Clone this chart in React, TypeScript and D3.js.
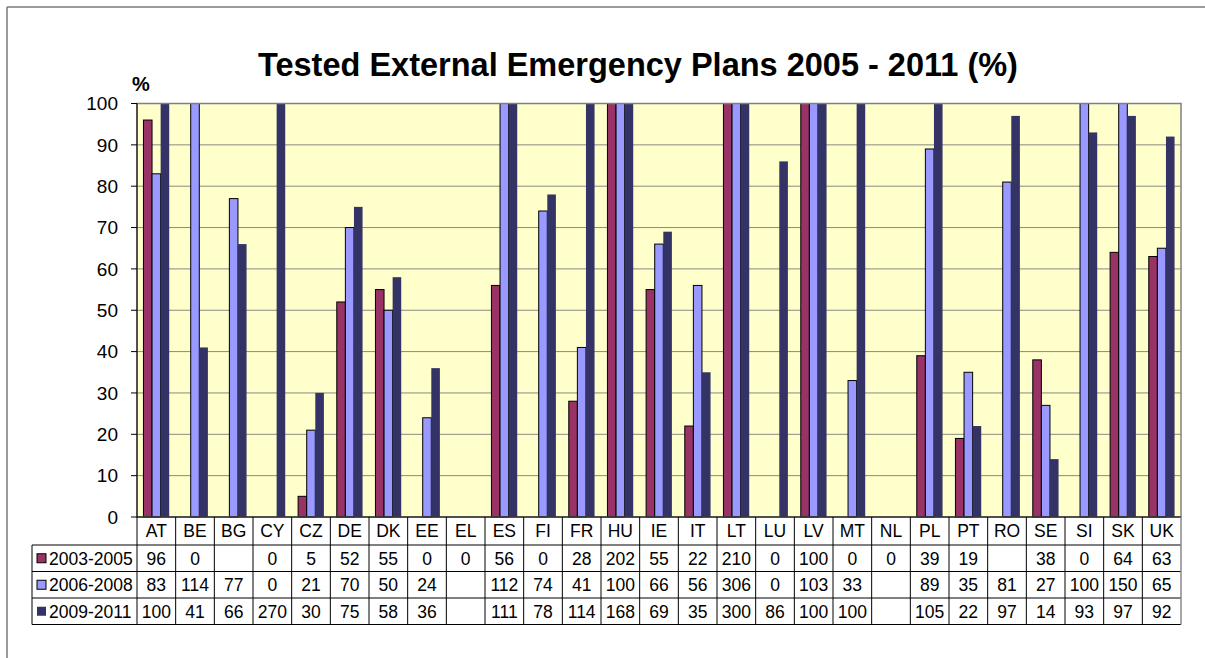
import React from 'react';
import * as d3 from 'd3';

const countries = ['AT', 'BE', 'BG', 'CY', 'CZ', 'DE', 'DK', 'EE', 'EL', 'ES', 'FI', 'FR', 'HU', 'IE', 'IT', 'LT', 'LU', 'LV', 'MT', 'NL', 'PL', 'PT', 'RO', 'SE', 'SI', 'SK', 'UK'];
const seriesNames = ['2003-2005', '2006-2008', '2009-2011'];
const s2003 = [96, 0, null, 0, 5, 52, 55, 0, 0, 56, 0, 28, 202, 55, 22, 210, 0, 100, 0, 0, 39, 19, null, 38, 0, 64, 63];
const s2006 = [83, 114, 77, 0, 21, 70, 50, 24, null, 112, 74, 41, 100, 66, 56, 306, 0, 103, 33, null, 89, 35, 81, 27, 100, 150, 65];
const s2009 = [100, 41, 66, 270, 30, 75, 58, 36, null, 111, 78, 114, 168, 69, 35, 300, 86, 100, 100, null, 105, 22, 97, 14, 93, 97, 92];
const yTicks = [0, 10, 20, 30, 40, 50, 60, 70, 80, 90, 100];

const seriesValues = [s2003, s2006, s2009];
const fills = ['#993366', '#9999FF', '#333366'];
const strokes = ['#000', '#000', 'none'];

const W = 1205;
const H = 658;
const plot = { left: 137, right: 1181, top: 103.5, bottom: 517 };
const tableRows = [517, 545, 571.5, 598, 624.5];
const legendLeft = 32;
const font = 'Arial, "Liberation Sans", sans-serif';

export default function App() {
  const x = d3.scaleBand<string>().domain(countries).range([plot.left, plot.right]);
  // gap width 150% like excel: 3 bars + 1.5 bar gap per category
  const barW = x.bandwidth() / 4.5;
  const y = d3.scaleLinear().domain([0, 100]).range([plot.bottom, plot.top]);

  return (
    <svg width={W} height={H} style={{ position: 'absolute', left: 0, top: 0, background: '#fff' }} fontFamily={font}>
      {/* chart frame */}
      <line x1={7} y1={7} x2={W} y2={7} stroke="#7a7a7a" strokeWidth={1.5} />
      <line x1={7} y1={7} x2={7} y2={H} stroke="#7a7a7a" strokeWidth={1.5} />

      <text x={638} y={76} textAnchor="middle" fontSize={32.5} fontWeight="bold">
        Tested External Emergency Plans 2005 - 2011 (%)
      </text>
      <text x={132} y={91} fontSize={20} fontWeight="bold">%</text>

      {/* plot area */}
      <rect x={plot.left} y={plot.top} width={plot.right - plot.left} height={plot.bottom - plot.top} fill="#FFFFCC" />
      {yTicks.filter(t => t > 0).map(t => (
        <line key={t} x1={plot.left} x2={plot.right} y1={y(t)} y2={y(t)} stroke="#8a8a80" strokeWidth={1} />
      ))}

      {seriesValues.map((vals, si) => (
        <g key={si}>
          {vals.map((v, ci) => {
            if (v == null || v === 0) return null;
            const bx = (x(countries[ci]) as number) + barW * 0.75 + si * barW;
            const top = y(Math.min(v, 100));
            return (
              <rect key={ci} x={bx} y={top} width={barW} height={plot.bottom - top}
                fill={fills[si]} stroke={strokes[si]} strokeWidth={1} />
            );
          })}
        </g>
      ))}

      <rect x={plot.left} y={plot.top} width={plot.right - plot.left} height={plot.bottom - plot.top} fill="none" stroke="#808080" strokeWidth={1.5} />
      <line x1={plot.left} x2={plot.left} y1={plot.top} y2={plot.bottom} stroke="#000" />
      <line x1={plot.left} x2={plot.right} y1={plot.bottom} y2={plot.bottom} stroke="#000" />

      {/* y axis */}
      {yTicks.map(t => (
        <g key={t}>
          <line x1={plot.left - 6} x2={plot.left} y1={y(t)} y2={y(t)} stroke="#000" />
          <text x={118} y={y(t)} dy="0.36em" textAnchor="end" fontSize={19}>{t}</text>
        </g>
      ))}

      {/* data table */}
      {tableRows.slice(1).map((ry, i) => (
        <line key={i} x1={legendLeft} x2={plot.right} y1={ry} y2={ry} stroke="#000" strokeWidth={1} />
      ))}
      <line x1={legendLeft} x2={legendLeft} y1={tableRows[1]} y2={tableRows[4]} stroke="#000" />
      {countries.map(c => (
        <line key={c} x1={x(c) as number} x2={x(c) as number} y1={plot.bottom} y2={tableRows[4]} stroke="#000" />
      ))}
      <line x1={plot.right} x2={plot.right} y1={plot.bottom} y2={tableRows[4]} stroke="#888" strokeWidth={1.5} />

      {countries.map(c => (
        <text key={c} x={(x(c) as number) + x.bandwidth() / 2} y={(tableRows[0] + tableRows[1]) / 2} dy="0.36em"
          textAnchor="middle" fontSize={17.5}>{c}</text>
      ))}
      {seriesValues.map((vals, si) => {
        const cy = (tableRows[si + 1] + tableRows[si + 2]) / 2;
        return (
          <g key={si}>
            <rect x={37} y={cy - 4.5} width={9} height={9} fill={fills[si]} stroke={strokes[si]} strokeWidth={1} />
            <text x={49} y={cy} dy="0.36em" fontSize={17.5}>{seriesNames[si]}</text>
            {vals.map((v, ci) => v == null ? null : (
              <text key={ci} x={(x(countries[ci]) as number) + x.bandwidth() / 2} y={cy} dy="0.36em"
                textAnchor="middle" fontSize={17.5}>{v}</text>
            ))}
          </g>
        );
      })}
    </svg>
  );
}
